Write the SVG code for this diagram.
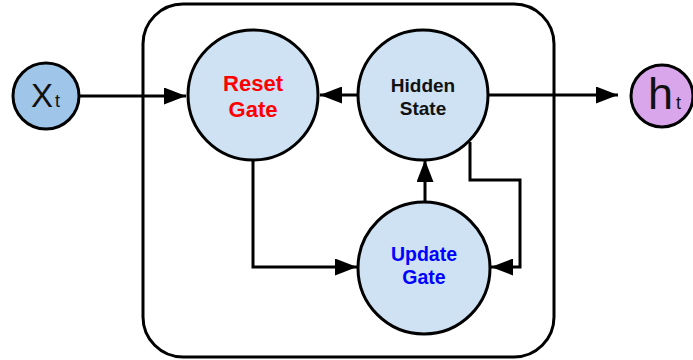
<svg xmlns="http://www.w3.org/2000/svg" width="693" height="360" viewBox="0 0 693 360">
<defs>
<style>
.node{stroke:#000;stroke-width:3}
.gate{fill:#cfe2f3}
.lbl{font-family:"Liberation Sans",Arial,sans-serif;font-weight:bold;text-anchor:middle}
.io{font-family:"Liberation Sans",Arial,sans-serif;fill:#111}
.con{fill:none;stroke:#000;stroke-width:3}
</style>
<marker id="ah" viewBox="0 0 10 10" refX="10" refY="5" markerWidth="22" markerHeight="17" markerUnits="userSpaceOnUse" orient="auto" preserveAspectRatio="none">
<path d="M0,0 L10,5 L0,10 Z" fill="#000"/>
</marker>
</defs>
<rect x="0" y="0" width="693" height="360" fill="#fff"/>
<g id="container">
<rect x="143" y="4" width="411" height="353" rx="40" ry="40" fill="none" stroke="#000" stroke-width="3"/>
</g>
<g id="connectors">
<path class="con" d="M80,96 H186" marker-end="url(#ah)"/>
<path class="con" d="M357,95 H320" marker-end="url(#ah)"/>
<path class="con" d="M488,95 H618" marker-end="url(#ah)"/>
<path class="con" d="M253,159 V267 H357" marker-end="url(#ah)"/>
<path class="con" d="M425,202 V160" marker-end="url(#ah)"/>
<path class="con" d="M470,142 V180 H520 V267 H491" marker-end="url(#ah)"/>
</g>
<g id="xt">
<circle class="node" cx="46" cy="96" r="33" fill="#9fc5e8"/>
<text class="io" x="31" y="107" font-size="33">X</text>
<text class="io" x="55" y="107" font-size="18">t</text>
</g>
<g id="reset-gate">
<circle class="node gate" cx="253" cy="95" r="65"/>
<text class="lbl" x="253" y="91" font-size="22" fill="#ff0000">Reset</text>
<text class="lbl" x="253" y="117" font-size="22" fill="#ff0000">Gate</text>
</g>
<g id="hidden-state">
<circle class="node gate" cx="423" cy="95" r="65"/>
<text class="lbl" x="423" y="92" font-size="19" fill="#111">Hidden</text>
<text class="lbl" x="423" y="115" font-size="19" fill="#111">State</text>
</g>
<g id="update-gate">
<circle class="node gate" cx="424" cy="268" r="66"/>
<text class="lbl" x="424" y="261" font-size="19.5" fill="#0000ff">Update</text>
<text class="lbl" x="424" y="284" font-size="19.5" fill="#0000ff">Gate</text>
</g>
<g id="ht">
<circle class="node" cx="662" cy="96" r="31" fill="#d9a6eb"/>
<text class="io" x="648" y="109" font-size="45">h</text>
<text class="io" x="676" y="109" font-size="18">t</text>
</g>
</svg>
